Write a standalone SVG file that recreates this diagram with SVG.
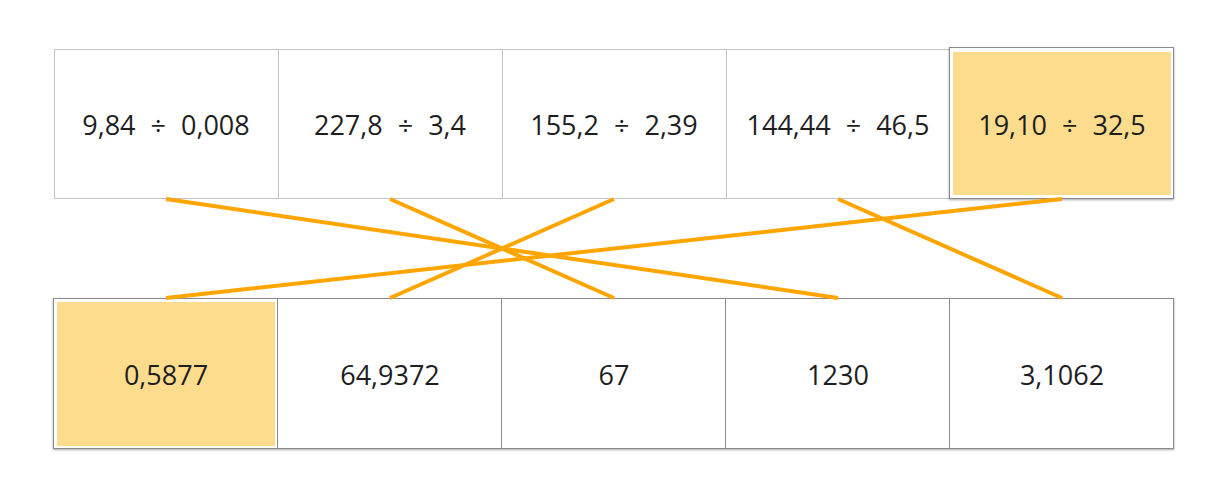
<svg xmlns="http://www.w3.org/2000/svg" width="1230" height="501" viewBox="0 0 1230 501">
<defs>
<filter id="sh" x="-5%" y="-5%" width="110%" height="115%"><feDropShadow dx="0" dy="1" stdDeviation="1.2" flood-color="#000" flood-opacity="0.35"/></filter>
</defs>
<style>
.top{fill:#fff;stroke:#c4c4c4;stroke-width:1}
.bot{fill:#fff;stroke:#8a8a8a;stroke-width:1}
.hl{fill:#fddc8e}
.hb{fill:#fff;stroke:#8a8a8a;stroke-width:1}
text{font-family:"Open Sans","Noto Sans","DejaVu Sans",sans-serif;font-size:27px;fill:#1e1e1e;text-anchor:middle}
.q{word-spacing:8px}
.c{stroke:#ffa500;stroke-width:4;fill:none}
</style>
<rect x="0" y="0" width="1230" height="501" fill="#fff"/>
<g id="top-row">
<g id="t1"><rect class="top" x="54.5" y="49.5" width="224" height="149"/><text class="q" x="166" y="135">9,84 ÷ 0,008</text></g>
<g id="t2"><rect class="top" x="278.5" y="49.5" width="224" height="149"/><text class="q" x="390" y="135">227,8 ÷ 3,4</text></g>
<g id="t3"><rect class="top" x="502.5" y="49.5" width="224" height="149"/><text class="q" x="614" y="135">155,2 ÷ 2,39</text></g>
<g id="t4"><rect class="top" x="726.5" y="49.5" width="224" height="149"/><text class="q" x="838" y="135">144,44 ÷ 46,5</text></g>
<g id="t5"><rect class="hb" filter="url(#sh)" x="949.5" y="47.5" width="224" height="151"/><rect class="hl" x="953" y="52" width="218" height="143"/><text class="q" x="1062" y="135">19,10 ÷ 32,5</text></g>
</g>
<g id="bottom-row" filter="url(#sh)">
<rect class="bot" x="53.5" y="298.5" width="1120" height="150"/>
</g>
<g id="b1"><rect class="hl" x="57" y="302" width="218" height="144"/><line x1="277.5" y1="298" x2="277.5" y2="449" stroke="#8a8a8a"/><text x="166" y="385">0,5877</text></g>
<g id="b2"><line x1="501.5" y1="298" x2="501.5" y2="449" stroke="#8a8a8a"/><text x="390" y="385">64,9372</text></g>
<g id="b3"><line x1="725.5" y1="298" x2="725.5" y2="449" stroke="#8a8a8a"/><text x="614" y="385">67</text></g>
<g id="b4"><line x1="949.5" y1="298" x2="949.5" y2="449" stroke="#8a8a8a"/><text x="838" y="385">1230</text></g>
<g id="b5"><text x="1062" y="385">3,1062</text></g>
<g id="connectors">
<line class="c" x1="166" y1="199" x2="838" y2="298"/>
<line class="c" x1="390" y1="199" x2="614" y2="298"/>
<line class="c" x1="614" y1="199" x2="390" y2="298"/>
<line class="c" x1="838" y1="199" x2="1062" y2="298"/>
<line class="c" x1="1062" y1="199" x2="166" y2="298"/>
</g>
</svg>
